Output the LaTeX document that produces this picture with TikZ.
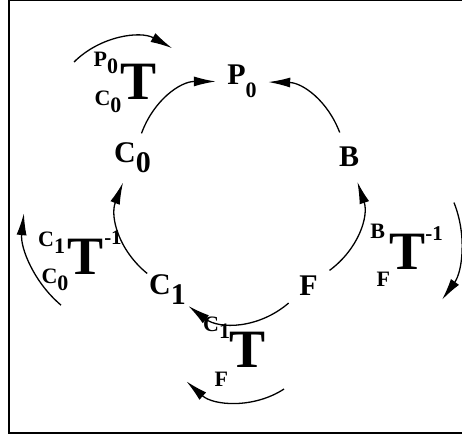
\documentclass[tikz,border=0pt]{standalone}
\usepackage{fontspec}
\setmainfont{Liberation Serif}
\usetikzlibrary{arrows.meta}
\newcommand{\lowsub}[1]{\raisebox{-0.33em}{#1}}

\begin{document}
\begin{tikzpicture}[
  x=1pt, y=1pt,
  every node/.style={inner sep=0pt},
  state/.style={circle, minimum size=52pt, font=\fontsize{30}{30}\selectfont\bfseries},
  bigT/.style={font=\fontsize{54}{54}\selectfont\bfseries},
  scr/.style={font=\fontsize{22}{22}\selectfont\bfseries},
  inv/.style={font=\fontsize{21}{21}\selectfont\bfseries},
  arr/.style={-{Latex[length=22pt, width=10pt]}, line width=1.3pt},
  frame/.style={line width=1.2pt},
]
  \useasboundingbox (0,0) rectangle (462,437);
  \draw[frame] (463,436.3) -- (9,436.3) -- (9,4) -- (463,4);

  \node[state] (p0) at (242,355.5) {P\raisebox{-13pt}{\fontsize{22}{22}\selectfont 0}};
  \node[state] (b)  at (349,280)   {B};
  \node[state] (c0) at (132.5,279) {C\lowsub{0}};
  \node[state] (c1) at (167.5,147) {C\lowsub{1}};
  \node[state] (f)  at (308.5,151) {F};

  \draw[arr] (c0) to[bend left=35] (p0);
  \draw[arr] (b) to[bend right=34] (p0);
  \draw[arr] (f) to[bend right=36] (b);
  \draw[arr] (c1) to[bend left=36] (c0);
  \draw[arr] (f) to[bend left=39] (c1);

  \node[bigT] (tpc) at (139,355.5) {T};
  \node[scr] (tpc-up) at (105.8,374) {P\lowsub{0}};
  \node[scr] (tpc-lo) at (108,335.5) {C\lowsub{0}};

  \node[bigT] (tcc) at (86,180.5) {T};
  \node[scr] (tcc-up) at (51.6,194.5) {C\lowsub{1}};
  \node[scr] (tcc-lo) at (55,157) {C\lowsub{0}};
  \node[inv] (tcc-inv) at (113,199.5) {-1};

  \node[bigT] (tcf) at (248,87.5) {T};
  \node[scr] (tcf-up) at (216.6,109.5) {C\lowsub{1}};
  \node[scr] (tcf-lo) at (221.3,57.5) {F};

  \node[bigT] (tbf) at (407.5,185.5) {T};
  \node[scr] (tbf-up) at (377.7,205.5) {B};
  \node[scr] (tbf-lo) at (383.3,157.5) {F};
  \node[inv] (tbf-inv) at (434,203.5) {-1};

  \draw[arr] ([shift={(135:82.4)}]132.3,316.7) arc[start angle=135, end angle=61, radius=82.4];
  \draw[arr] ([shift={(230:105.7)}]129,212.8) arc[start angle=230, end angle=174, radius=105.7];
  \draw[arr] ([shift={(303:80.4)}]240.2,115.4) arc[start angle=303, end angle=228, radius=80.4];
  \draw[arr] ([shift={(22:101)}]360.3,196.6) arc[start angle=22, end angle=-36, radius=101];
\end{tikzpicture}
\end{document}
